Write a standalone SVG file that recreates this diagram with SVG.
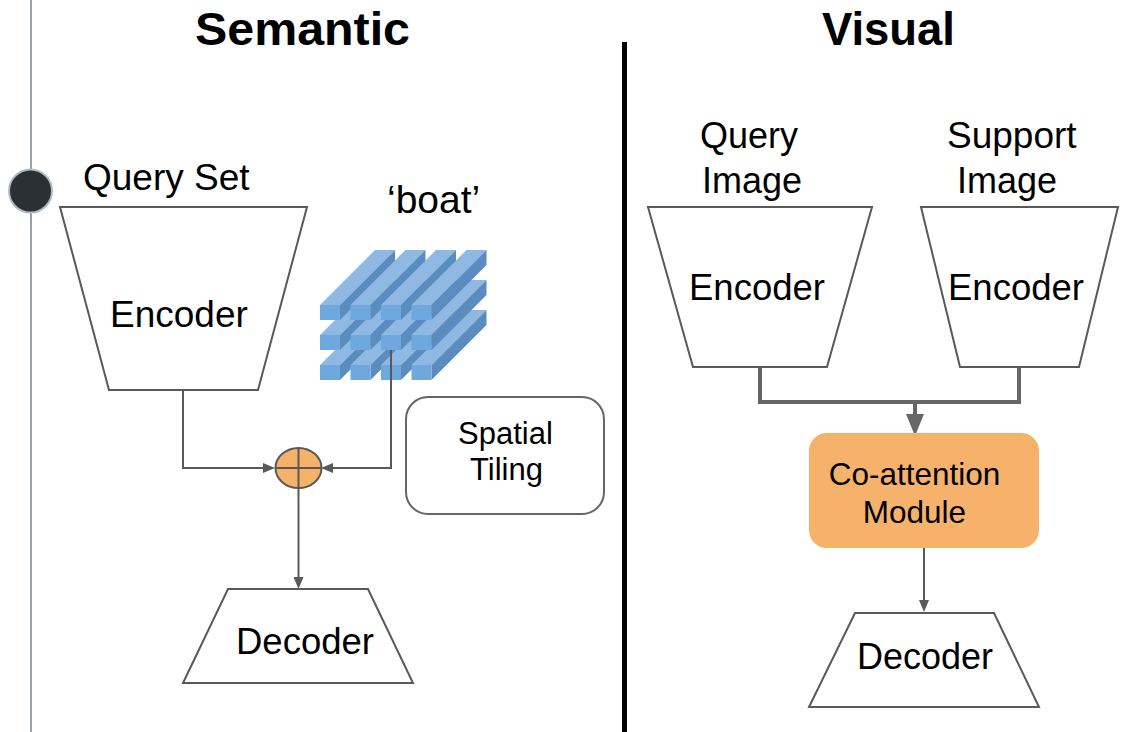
<svg xmlns="http://www.w3.org/2000/svg" width="1128" height="732" viewBox="0 0 1128 732">
<style>
.t{font-family:"Liberation Sans",Arial,sans-serif;fill:#000}
.title{font-family:"Liberation Sans",Arial,sans-serif;font-weight:700;font-size:46px;fill:#000}
.trap{fill:#fff;stroke:#595959;stroke-width:2}
.conn{fill:none;stroke:#595959;stroke-width:2}
.thick{fill:none;stroke:#666;stroke-width:4}
</style>
<defs>
<marker id="arr" viewBox="0 0 12 10" refX="0" refY="5" markerWidth="12" markerHeight="10" markerUnits="userSpaceOnUse" orient="auto">
<path d="M0,0 L12,5 L0,10 z" fill="#595959"/>
</marker>
<marker id="arrBig" viewBox="0 0 22 18" refX="0" refY="9" markerWidth="22" markerHeight="18" markerUnits="userSpaceOnUse" orient="auto">
<path d="M0,0 L22,9 L0,18 z" fill="#666"/>
</marker>
<g id="bar">
<polygon points="0,0 20,0 75,-55 55,-55" fill="#8fb8e3"/>
<polygon points="20,0 20,15 75,-40 75,-55" fill="#5a8cbf"/>
<rect x="0" y="0" width="20" height="15" fill="#6fa8dc"/>
</g>
</defs>
<rect width="1128" height="732" fill="#fff"/>

<g id="timeline">
<line x1="31" y1="0" x2="31" y2="732" stroke="#9aa0a8" stroke-width="2"/>
<circle cx="30.5" cy="191" r="21.5" fill="#2b2f36" stroke="#b3b8c0" stroke-width="2"/>
</g>

<g id="divider">
<line x1="624.5" y1="42" x2="624.5" y2="732" stroke="#000" stroke-width="5"/>
</g>

<g id="title-semantic"><text class="title" x="195" y="45" textLength="215" lengthAdjust="spacingAndGlyphs">Semantic</text></g>
<g id="title-visual"><text class="title" x="822" y="45" textLength="133" lengthAdjust="spacingAndGlyphs">Visual</text></g>

<g id="query-set-encoder">
<text class="t" x="83" y="190" font-size="37">Query Set</text>
<polygon class="trap" points="60,207 307,207 258,390 109,390"/>
<text class="t" x="110" y="327" font-size="37">Encoder</text>
</g>

<g id="boat-embedding">
<text class="t" x="387" y="213" font-size="39">‘boat’</text>
<use href="#bar" x="320" y="365"/>
<use href="#bar" x="350.5" y="365"/>
<use href="#bar" x="381" y="365"/>
<use href="#bar" x="411.5" y="365"/>
<use href="#bar" x="320" y="335"/>
<use href="#bar" x="350.5" y="335"/>
<use href="#bar" x="381" y="335"/>
<use href="#bar" x="411.5" y="335"/>
<use href="#bar" x="320" y="305"/>
<use href="#bar" x="350.5" y="305"/>
<use href="#bar" x="381" y="305"/>
<use href="#bar" x="411.5" y="305"/>
</g>

<g id="spatial-tiling">
<rect x="406" y="397" width="198" height="117" rx="22" fill="#fff" stroke="#666" stroke-width="2"/>
<text class="t" x="505.5" y="444" font-size="31" text-anchor="middle">Spatial</text>
<text class="t" x="506.5" y="480" font-size="31" text-anchor="middle">Tiling</text>
</g>

<g id="connectors">
<path class="conn" d="M183,390 V468 H263" marker-end="url(#arr)"/>
<path class="conn" d="M391,350 V468 H333" marker-end="url(#arr)"/>
<path class="conn" d="M298.5,488 V577" marker-end="url(#arr)"/>
<path class="thick" d="M760,367 V402 H1019 V367"/>
<path class="thick" d="M915,402 V414" marker-end="url(#arrBig)"/>
<path class="conn" d="M924,548 V600" marker-end="url(#arr)"/>
</g>

<g id="sum-node">
<ellipse cx="298.5" cy="468" rx="23" ry="20" fill="#f6b26b" stroke="#595959" stroke-width="2"/>
<line x1="275.5" y1="468" x2="321.5" y2="468" stroke="#595959" stroke-width="2"/>
<line x1="298.5" y1="448" x2="298.5" y2="488" stroke="#595959" stroke-width="2"/>
</g>

<g id="decoder-left">
<polygon class="trap" points="228,589 368,589 413,683 183,683"/>
<text class="t" x="236" y="654" font-size="36.5">Decoder</text>
</g>

<g id="query-image-encoder">
<text class="t" x="700" y="148" font-size="36">Query</text>
<text class="t" x="702" y="193" font-size="36">Image</text>
<polygon class="trap" points="648,207 872,207 827,367 693,367"/>
<text class="t" x="689" y="300" font-size="36.5">Encoder</text>
</g>

<g id="support-image-encoder">
<text class="t" x="947" y="148" font-size="37">Support</text>
<text class="t" x="957" y="193" font-size="36">Image</text>
<polygon class="trap" points="921,207 1118,207 1079,367 960,367"/>
<text class="t" x="948" y="300" font-size="36.5">Encoder</text>
</g>

<g id="co-attention">
<rect x="809" y="433" width="230" height="115" rx="18" fill="#f6b26b"/>
<text class="t" x="914.5" y="485" font-size="31.5" text-anchor="middle">Co-attention</text>
<text class="t" x="914.5" y="523" font-size="31.5" text-anchor="middle">Module</text>
</g>

<g id="decoder-right">
<polygon class="trap" points="855,613 994,613 1039,707 809,707"/>
<text class="t" x="857" y="669" font-size="36">Decoder</text>
</g>
</svg>
